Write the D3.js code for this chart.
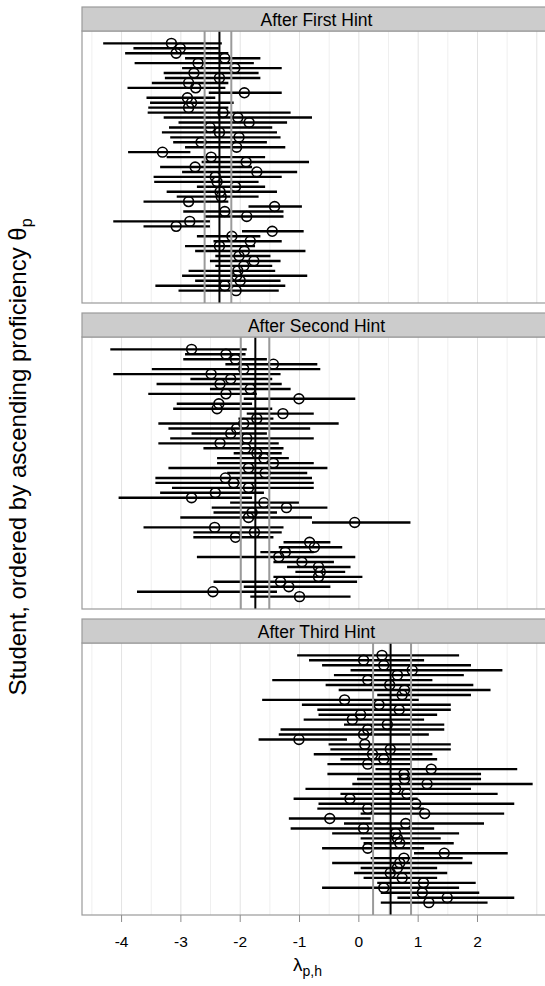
<!DOCTYPE html>
<html lang="en">
<head>
<meta charset="UTF-8">
<title>Hint parameters by student</title>
<script src="https://d3js.org/d3.v7.min.js"></script>
<style>
    body { margin: 0; background: #fff; }
    svg text { font-family: "Liberation Sans", Arial, sans-serif; fill: #000; }
    .grid-major { stroke: #e3e3e3; stroke-width: 1; }
    .grid-minor { stroke: #efefef; stroke-width: 1; }
    .bar { stroke: #000; stroke-width: 2.4; }
    .pt { fill: none; stroke: #000; stroke-width: 1.6; }
    .avg { stroke: #000; stroke-width: 2; }
    .band { stroke: #9a9a9a; stroke-width: 2; }
    .frame { fill: none; stroke: #9a9a9a; stroke-width: 1.2; }
    .strip { fill: #cccccc; stroke: #9a9a9a; stroke-width: 1.2; }
    .tick { stroke: #8c8c8c; stroke-width: 1; }
</style>
</head>
<body>
<svg width="545" height="986"></svg>
<script>
// panel titles and x ticks
const titles = ["After First Hint", "After Second Hint", "After Third Hint"];
const xTicks = [-4, -3, -2, -1, 0, 1, 2];

// after first hint: estimate, lower, upper (students top to bottom)
const est1 = [-3.16,-3.01,-3.08,-2.26,-2.71,-2.09,-2.78,-2.35,-2.87,-2.75,-1.93,-2.89,-2.82,-2.87,-2.29,-2.04,-1.85,-2.51,-2.35,-2.02,-2.66,-2.06,-3.31,-2.49,-1.90,-2.76,-1.72,-2.42,-2.39,-2.08,-2.34,-2.32,-2.87,-1.42,-2.26,-1.89,-2.85,-3.08,-1.46,-2.14,-1.83,-2.35,-1.93,-2.02,-1.77,-1.94,-2.04,-2.06,-2.00,-2.26,-2.07];
const lo1 = [-4.31,-3.80,-3.94,-2.93,-3.78,-2.98,-3.29,-3.27,-3.49,-3.90,-2.53,-3.58,-3.52,-3.55,-3.56,-3.29,-3.04,-3.20,-3.32,-3.18,-3.13,-2.93,-3.89,-3.24,-2.65,-3.35,-2.98,-3.46,-3.45,-2.73,-3.24,-3.07,-3.63,-1.86,-2.96,-2.59,-4.14,-3.63,-1.97,-2.73,-2.45,-2.93,-2.76,-2.42,-2.51,-2.42,-2.87,-2.98,-2.76,-3.43,-3.04];
const hi1 = [-2.31,-2.36,-2.20,-1.66,-1.77,-1.30,-1.69,-1.66,-2.20,-2.25,-1.30,-2.42,-2.11,-2.20,-1.15,-0.79,-1.21,-1.46,-1.38,-1.32,-1.55,-1.24,-2.84,-1.58,-0.84,-1.80,-1.04,-1.30,-1.69,-1.58,-1.38,-1.69,-2.20,-0.96,-1.27,-1.27,-2.51,-2.51,-0.93,-1.66,-1.30,-1.75,-0.90,-1.49,-1.32,-1.46,-1.41,-0.87,-1.32,-1.24,-1.35];

// after second hint
const est2 = [-2.82,-2.24,-2.08,-1.44,-1.94,-2.49,-2.16,-2.34,-1.83,-2.24,-1.01,-2.36,-2.39,-1.28,-1.72,-1.94,-2.06,-2.16,-1.89,-2.34,-1.91,-1.72,-1.60,-1.44,-1.86,-1.58,-2.25,-2.11,-1.86,-2.42,-2.82,-1.60,-1.22,-1.80,-1.86,-0.07,-2.43,-1.76,-2.08,-0.83,-0.75,-1.24,-1.35,-0.96,-0.68,-0.65,-0.68,-1.32,-1.18,-2.46,-1.00];
const lo2 = [-4.19,-2.93,-2.96,-2.25,-3.49,-4.14,-2.84,-3.41,-2.51,-3.55,-1.94,-3.07,-3.13,-1.89,-2.03,-3.38,-3.21,-2.82,-3.18,-3.38,-2.62,-2.11,-2.39,-2.39,-3.21,-2.22,-3.43,-3.43,-3.15,-3.35,-4.05,-2.17,-2.48,-2.45,-3.01,-0.79,-3.63,-2.79,-2.79,-1.27,-1.35,-1.66,-2.73,-1.44,-1.21,-1.07,-1.44,-2.45,-1.94,-3.74,-1.83];
const hi2 = [-1.89,-1.91,-1.55,-0.70,-0.65,-1.32,-1.46,-1.30,-1.15,-1.72,-0.06,-1.80,-1.46,-0.76,-1.44,-0.34,-0.82,-1.55,-0.76,-1.35,-1.27,-1.30,-1.18,-0.76,-0.53,-0.87,-0.79,-0.76,-0.76,-1.60,-1.80,-1.01,-0.53,-1.38,-0.79,0.87,-1.27,-1.30,-1.44,-0.48,-0.28,-0.76,-0.06,-0.42,-0.14,-0.23,0.06,-0.03,-0.48,-1.38,-0.14];

// after third hint
const est3 = [0.39,0.08,0.42,0.90,0.65,0.15,0.52,0.77,0.73,-0.24,0.34,0.68,0.03,-0.11,0.48,0.15,0.08,-1.01,0.10,0.53,0.23,0.42,0.15,1.22,0.76,0.77,1.15,0.62,0.81,-0.15,0.96,0.15,1.11,-0.49,0.79,0.08,0.62,0.65,0.69,0.15,1.44,0.76,0.69,0.65,0.53,0.73,1.09,0.42,1.07,1.49,1.18];
const lo3 = [-1.04,-0.84,-0.62,-0.14,-0.42,-1.46,-0.56,-0.34,0.31,-1.63,-0.96,-0.70,-0.68,-0.93,-0.25,-1.32,-1.35,-1.69,-0.51,-0.48,-0.76,-0.31,-0.53,0.28,-0.53,-0.03,-0.11,-0.90,-0.31,-1.10,-0.68,-0.70,0.03,-1.18,-0.25,-1.15,-0.45,0.03,0.08,-0.62,0.93,0.20,-0.45,0.03,-0.08,0.08,0.31,-0.62,0.37,0.65,0.37];
const hi3 = [1.69,1.10,1.89,2.42,1.77,1.24,1.93,2.22,1.89,1.01,1.55,1.55,1.32,1.10,1.44,1.44,1.18,-0.20,1.55,1.55,1.24,1.32,0.87,2.67,2.06,2.06,2.93,1.89,2.34,0.99,2.62,1.10,2.45,0.20,2.11,1.27,1.69,1.38,1.60,1.10,2.51,1.75,1.91,1.32,1.49,1.32,1.97,1.69,2.03,2.62,2.17];

// overall mean per panel and its interval
const avgLine = [-2.35, -1.745, 0.535];
const avgLo = [-2.60, -1.99, 0.24];
const avgHi = [-2.15, -1.51, 0.88];

const panelData = [
    {est: est1, lo: lo1, hi: hi1},
    {est: est2, lo: lo2, hi: hi2},
    {est: est3, lo: lo3, hi: hi3}
];

const svg = d3.select("svg");
const left = 82, right = 546;
const top0 = 7, stripH = 24, plotH = 272, gap = 10;

const x = d3.scaleLinear().domain([-4.667, 3.155]).range([left, right]);
const gridVals = d3.range(-4.5, 3.01, 0.5);

panelData.forEach(function (p, k) {
    const py = top0 + k * (stripH + plotH + gap);
    const y0 = py + stripH;
    const n = p.est.length;
    const pad = (n - 1) * 0.05;
    const y = d3.scaleLinear().domain([1 - pad, n + pad]).range([y0, y0 + plotH]);

    const g = svg.append("g");

    g.append("rect").attr("x", left).attr("y", y0).attr("width", right - left).attr("height", plotH)
        .attr("fill", "#fff");

    g.selectAll(".gl").data(gridVals).enter().append("line")
        .attr("class", d => Number.isInteger(d) ? "grid-major" : "grid-minor")
        .attr("x1", d => x(d)).attr("x2", d => x(d))
        .attr("y1", y0).attr("y2", y0 + plotH);

    const rows = p.est.map((e, i) => ({i: i + 1, est: e, lo: p.lo[i], hi: p.hi[i]}));

    g.selectAll(".bar").data(rows).enter().append("line")
        .attr("class", "bar")
        .attr("x1", d => x(d.lo)).attr("x2", d => x(d.hi))
        .attr("y1", d => y(d.i)).attr("y2", d => y(d.i));

    g.selectAll(".pt").data(rows).enter().append("circle")
        .attr("class", "pt")
        .attr("cx", d => x(d.est)).attr("cy", d => y(d.i)).attr("r", 4.9);

    [avgLo[k], avgHi[k]].forEach(function (v) {
        g.append("line").attr("class", "band")
            .attr("x1", x(v)).attr("x2", x(v)).attr("y1", y0).attr("y2", y0 + plotH);
    });
    g.append("line").attr("class", "avg")
        .attr("x1", x(avgLine[k])).attr("x2", x(avgLine[k])).attr("y1", y0).attr("y2", y0 + plotH);

    g.append("rect").attr("class", "frame")
        .attr("x", left).attr("y", y0).attr("width", right - left).attr("height", plotH);

    g.append("rect").attr("class", "strip")
        .attr("x", left).attr("y", py).attr("width", right - left).attr("height", stripH);
    g.append("text")
        .attr("x", (left + 545) / 2 + 3).attr("y", py + stripH / 2 + 6.5)
        .attr("text-anchor", "middle").attr("font-size", 17.5)
        .text(titles[k]);
});

// x axis under the last panel
const axisY = top0 + 3 * (stripH + plotH) + 2 * gap;
const ax = svg.append("g");
ax.selectAll(".tick").data(xTicks).enter().append("line")
    .attr("class", "tick")
    .attr("x1", d => x(d)).attr("x2", d => x(d))
    .attr("y1", axisY).attr("y2", axisY + 7);
ax.selectAll(".tl").data(xTicks).enter().append("text")
    .attr("x", d => x(d)).attr("y", axisY + 32)
    .attr("text-anchor", "middle").attr("font-size", 15.5)
    .text(d => d);

const xl = svg.append("text")
    .attr("x", (left + 545) / 2 - 6).attr("y", axisY + 56)
    .attr("text-anchor", "middle").attr("font-size", 19);
xl.append("tspan").text("λ");
xl.append("tspan").attr("font-size", 14).attr("dy", 5).text("p,h");

const yl = svg.append("text")
    .attr("transform", "translate(26," + (top0 + (axisY - top0) / 2 - 4) + ") rotate(-90)")
    .attr("text-anchor", "middle").attr("font-size", 24);
yl.append("tspan").text("Student, ordered by ascending proficiency θ");
yl.append("tspan").attr("font-size", 16).attr("dy", 6).text("p");
</script>
</body>
</html>
